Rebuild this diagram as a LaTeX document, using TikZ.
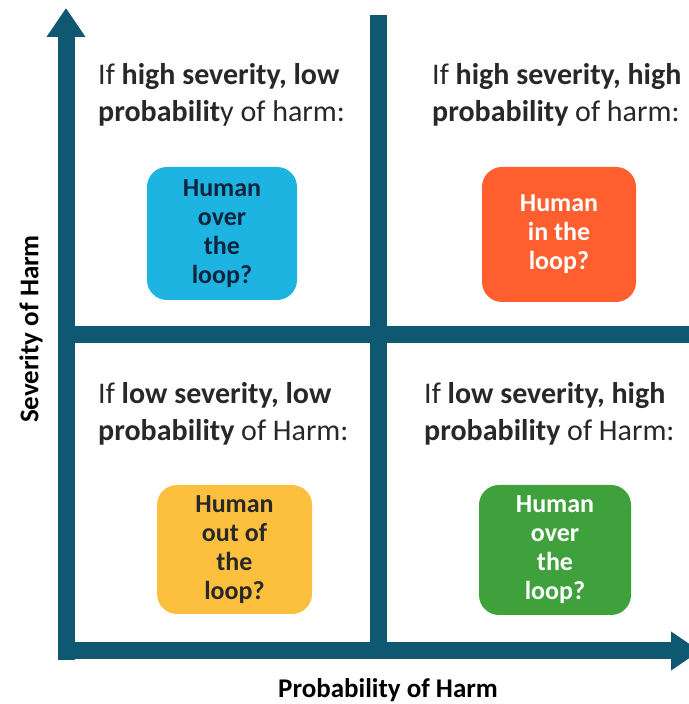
\documentclass[tikz,border=0pt]{standalone}
\usepackage{fontspec}
\setmainfont{Carlito}
\usetikzlibrary{arrows.meta}
\definecolor{AxisClr}{RGB}{14,88,114}
\definecolor{CyanClr}{RGB}{29,180,225}
\definecolor{OrangeClr}{RGB}{255,94,46}
\definecolor{YellowClr}{RGB}{253,192,62}
\definecolor{GreenClr}{RGB}{62,161,60}
\definecolor{NavyClr}{RGB}{16,36,62}
\definecolor{InkClr}{RGB}{40,40,40}

\begin{document}
\begin{tikzpicture}[x=1pt,y=1pt,
  axis/.style={line width=17pt,color=AxisClr,-{Triangle[width=37pt,length=29pt]}},
  divider/.style={line width=17pt,color=AxisClr},
  choice/.style={rounded corners=20pt,align=center,font=\fontsize{26}{29}\selectfont\bfseries,inner sep=0pt},
  header/.style={anchor=west,align=left,inner sep=0pt,font=\fontsize{30}{37}\selectfont,text=InkClr},
  axislabel/.style={font=\fontsize{27}{30}\selectfont\bfseries,text=black}]
\useasboundingbox (0,0) rectangle (688,704);

\coordinate (O) at (66,53);
\coordinate (Ycorner) at (66,44);
\coordinate (Xcorner) at (58,53);
\coordinate (Ytip) at (66,696);
\coordinate (Xtip) at (700,53);
\coordinate (Mtop) at (378,689);
\coordinate (Mbot) at (378,53);
\coordinate (Mleft) at (66,369);
\coordinate (Mright) at (700,369);

% dividers
\draw[divider] (Mbot) -- (Mtop);
\draw[divider] (Mleft) -- (Mright);
% axes
\draw[axis] (Ycorner) -- (Ytip);
\draw[axis] (Xcorner) -- (Xtip);

% headers
\node[header] (hTL) at (98,609) {If \textbf{high severity, low}\\\textbf{probabilit}y of harm:};
\node[header] (hTR) at (432,609) {If \textbf{high severity, high}\\\textbf{probability} of harm:};
\node[header] (hBL) at (98,290) {If \textbf{low severity, low}\\\textbf{probability} of Harm:};
\node[header] (hBR) at (424,290) {If \textbf{low severity, high}\\\textbf{probability} of Harm:};

% choices
\node[choice,fill=CyanClr,text=NavyClr,minimum width=150pt,minimum height=133pt] (over1) at (222,470.5) {Human\\over\\the\\loop?};
\node[choice,fill=OrangeClr,text=white,minimum width=154pt,minimum height=135pt] (inloop) at (559,469.5) {Human\\in the\\loop?};
\node[choice,fill=YellowClr,text=InkClr,minimum width=155pt,minimum height=129pt] (outloop) at (234.5,154.5) {Human\\out of\\the\\loop?};
\node[choice,fill=GreenClr,text=white,minimum width=152pt,minimum height=130pt] (over2) at (555,154) {Human\\over\\the\\loop?};

% axis labels
\node[axislabel,rotate=90] (ylab) at (31,375) {Severity of Harm};
\node[axislabel] (xlab) at (388,14) {Probability of Harm};
\end{tikzpicture}
\end{document}
